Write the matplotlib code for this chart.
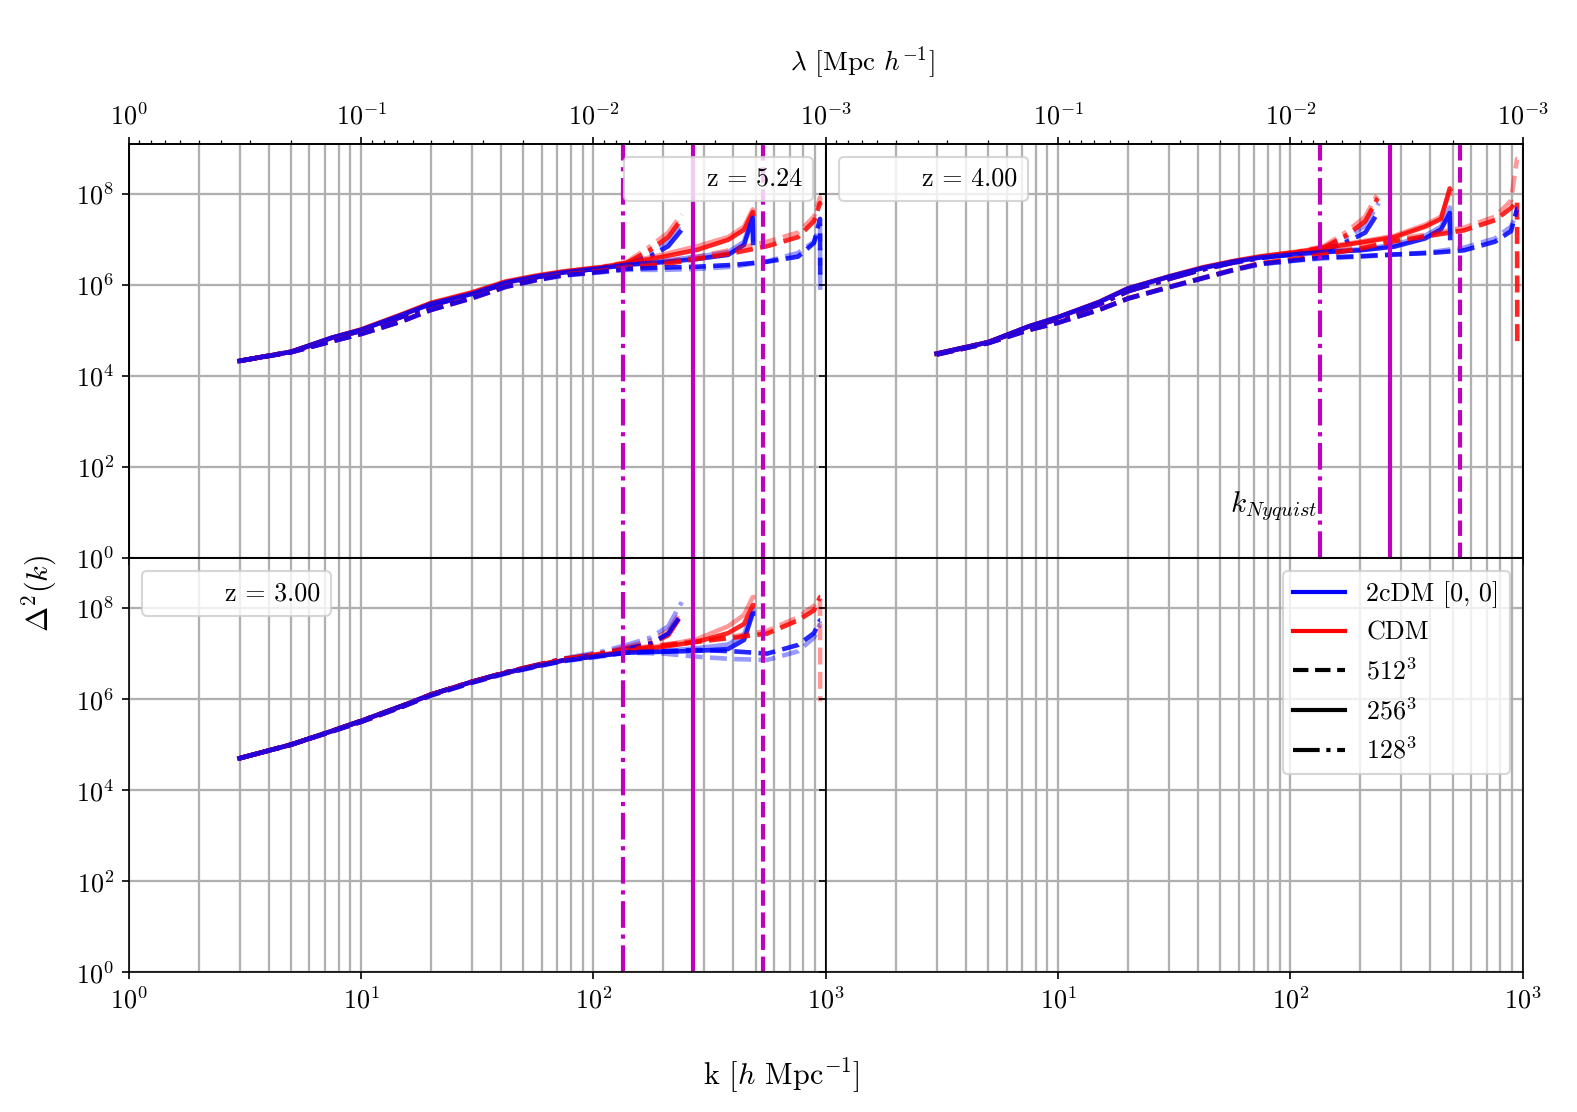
import numpy as np
import matplotlib
matplotlib.use("Agg")
import matplotlib.pyplot as plt
from matplotlib.lines import Line2D
from matplotlib import ticker

plt.rcParams['font.family'] = 'serif'
plt.rcParams['font.serif'] = ['cmr10']
plt.rcParams['mathtext.fontset'] = 'cm'
plt.rcParams['axes.formatter.use_mathtext'] = True
plt.rcParams['font.size'] = 12

# k bins for the three box resolutions (h/Mpc)
k128 = [3, 5, 7.5, 10, 15, 20, 30, 42, 57, 74, 110, 139, 176, 210, 240]
k256 = [3, 5, 7.5, 10, 15, 20, 30, 42, 57, 74, 110, 139, 200, 280, 380, 445, 485, 487]
k512 = [3, 5, 7.5, 10, 15, 20, 30, 42, 57, 74, 110, 139, 200, 280, 400, 560, 760, 890, 945, 947]

# nyquist wavenumbers for 128^3, 256^3, 512^3
k_nyq = [134.0, 268.1, 536.2]

redshifts = ["5.24", "4.00", "3.00"]

# log10 Delta^2(k); "_b" is the second (faint) run
# z = 5.24
cdm_z5_128 = [4.33, 4.53, 4.82, 4.99, 5.30, 5.55, 5.79, 6.03, 6.17, 6.27, 6.38, 6.48, 6.77, 7.05, 7.45]
cdm_z5_128_b = [4.33, 4.53, 4.82, 4.99, 5.30, 5.55, 5.79, 6.03, 6.17, 6.28, 6.40, 6.50, 6.85, 7.15, 7.55]
dm2_z5_128 = [4.33, 4.53, 4.82, 4.99, 5.30, 5.55, 5.79, 6.03, 6.17, 6.27, 6.37, 6.44, 6.63, 6.85, 7.21]
dm2_z5_128_b = [4.33, 4.53, 4.82, 4.99, 5.30, 5.55, 5.79, 6.03, 6.17, 6.27, 6.38, 6.46, 6.68, 6.95, 7.35]
cdm_z5_256 = [4.33, 4.53, 4.84, 5.02, 5.35, 5.60, 5.83, 6.07, 6.20, 6.29, 6.39, 6.48, 6.62, 6.77, 6.99, 7.21, 7.60, 7.55]
cdm_z5_256_b = [4.33, 4.53, 4.84, 5.02, 5.36, 5.61, 5.84, 6.08, 6.21, 6.30, 6.40, 6.49, 6.67, 6.85, 7.05, 7.28, 7.66, 7.62]
dm2_z5_256 = [4.33, 4.53, 4.84, 5.01, 5.34, 5.58, 5.80, 6.05, 6.18, 6.27, 6.37, 6.44, 6.50, 6.57, 6.66, 6.88, 7.47, 6.92]
dm2_z5_256_b = [4.33, 4.53, 4.84, 5.01, 5.34, 5.59, 5.81, 6.06, 6.19, 6.28, 6.38, 6.45, 6.53, 6.62, 6.72, 6.95, 7.52, 7.00]
cdm_z5_512 = [4.33, 4.52, 4.76, 4.92, 5.20, 5.45, 5.71, 5.96, 6.11, 6.22, 6.30, 6.37, 6.45, 6.57, 6.70, 6.85, 7.05, 7.40, 7.80, 7.75]
cdm_z5_512_b = [4.33, 4.52, 4.77, 4.93, 5.21, 5.46, 5.72, 5.97, 6.12, 6.23, 6.32, 6.40, 6.50, 6.62, 6.78, 6.95, 7.15, 7.50, 7.92, 7.85]
dm2_z5_512 = [4.33, 4.52, 4.76, 4.92, 5.20, 5.45, 5.71, 5.96, 6.11, 6.21, 6.29, 6.35, 6.38, 6.40, 6.44, 6.51, 6.62, 6.92, 7.45, 6.09]
dm2_z5_512_b = [4.33, 4.52, 4.76, 4.92, 5.20, 5.45, 5.70, 5.95, 6.10, 6.20, 6.28, 6.33, 6.33, 6.35, 6.40, 6.52, 6.70, 6.95, 7.30, 5.76]

# z = 4.00
cdm_z4_128 = [4.48, 4.74, 5.06, 5.25, 5.57, 5.86, 6.13, 6.34, 6.49, 6.60, 6.72, 6.82, 7.10, 7.40, 7.95]
cdm_z4_128_b = [4.48, 4.74, 5.06, 5.25, 5.57, 5.86, 6.13, 6.34, 6.50, 6.61, 6.74, 6.85, 7.18, 7.50, 8.05]
dm2_z4_128 = [4.48, 4.74, 5.06, 5.25, 5.57, 5.86, 6.13, 6.34, 6.49, 6.59, 6.69, 6.74, 6.95, 7.15, 7.61]
dm2_z4_128_b = [4.48, 4.74, 5.06, 5.25, 5.57, 5.86, 6.13, 6.34, 6.49, 6.60, 6.71, 6.80, 7.05, 7.30, 7.80]
cdm_z4_256 = [4.49, 4.74, 5.09, 5.29, 5.62, 5.92, 6.18, 6.38, 6.52, 6.62, 6.73, 6.81, 6.93, 7.05, 7.28, 7.45, 8.12, 8.10]
cdm_z4_256_b = [4.49, 4.74, 5.09, 5.29, 5.63, 5.93, 6.19, 6.39, 6.53, 6.63, 6.74, 6.83, 6.95, 7.08, 7.32, 7.50, 8.05, 8.00]
dm2_z4_256 = [4.49, 4.74, 5.09, 5.29, 5.62, 5.92, 6.18, 6.37, 6.51, 6.60, 6.68, 6.72, 6.76, 6.84, 7.02, 7.22, 7.58, 7.03]
dm2_z4_256_b = [4.49, 4.74, 5.09, 5.29, 5.62, 5.92, 6.18, 6.38, 6.52, 6.61, 6.70, 6.74, 6.78, 6.88, 7.08, 7.28, 7.70, 7.15]
cdm_z4_512 = [4.47, 4.72, 5.01, 5.17, 5.45, 5.70, 5.95, 6.15, 6.33, 6.47, 6.58, 6.66, 6.80, 6.96, 7.08, 7.20, 7.42, 7.69, 7.85, 4.64]
cdm_z4_512_b = [4.47, 4.72, 5.01, 5.17, 5.46, 5.71, 5.96, 6.16, 6.34, 6.48, 6.60, 6.70, 6.85, 7.00, 7.12, 7.26, 7.50, 7.85, 8.77, 8.77]
dm2_z4_512 = [4.47, 4.72, 5.01, 5.17, 5.45, 5.70, 5.95, 6.15, 6.33, 6.46, 6.55, 6.60, 6.63, 6.67, 6.70, 6.76, 6.95, 7.18, 7.67, 7.67]
dm2_z4_512_b = [4.47, 4.72, 5.01, 5.17, 5.45, 5.70, 5.94, 6.14, 6.32, 6.45, 6.54, 6.58, 6.62, 6.66, 6.72, 6.82, 7.02, 7.28, 7.60, 7.60]

# z = 3.00
cdm_z3_128 = [4.70, 5.00, 5.30, 5.52, 5.85, 6.10, 6.38, 6.59, 6.75, 6.88, 7.01, 7.12, 7.22, 7.40, 7.85]
cdm_z3_128_b = [4.70, 5.00, 5.30, 5.52, 5.85, 6.10, 6.38, 6.59, 6.75, 6.88, 7.02, 7.15, 7.28, 7.50, 7.95]
dm2_z3_128 = [4.70, 5.00, 5.30, 5.52, 5.85, 6.10, 6.38, 6.59, 6.74, 6.87, 7.00, 7.10, 7.22, 7.44, 7.88]
dm2_z3_128_b = [4.70, 5.00, 5.30, 5.52, 5.85, 6.10, 6.38, 6.59, 6.75, 6.89, 7.05, 7.19, 7.35, 7.60, 8.13]
cdm_z3_256 = [4.70, 5.00, 5.30, 5.52, 5.85, 6.10, 6.38, 6.58, 6.73, 6.85, 6.97, 7.05, 7.15, 7.26, 7.45, 7.65, 8.06, 8.06]
cdm_z3_256_b = [4.70, 5.00, 5.30, 5.52, 5.85, 6.10, 6.38, 6.58, 6.73, 6.85, 6.98, 7.06, 7.18, 7.32, 7.60, 7.85, 8.24, 8.24]
dm2_z3_256 = [4.70, 5.00, 5.30, 5.52, 5.85, 6.10, 6.38, 6.58, 6.73, 6.85, 6.96, 7.02, 7.04, 7.06, 7.10, 7.30, 7.88, 7.88]
dm2_z3_256_b = [4.70, 5.00, 5.30, 5.52, 5.85, 6.10, 6.38, 6.58, 6.73, 6.85, 6.96, 7.03, 7.06, 7.12, 7.20, 7.42, 7.95, 7.95]
cdm_z3_512 = [4.70, 5.00, 5.29, 5.50, 5.83, 6.09, 6.37, 6.58, 6.74, 6.87, 7.00, 7.08, 7.18, 7.26, 7.35, 7.44, 7.73, 7.95, 8.24, 8.24]
cdm_z3_512_b = [4.70, 5.00, 5.29, 5.50, 5.83, 6.09, 6.37, 6.58, 6.74, 6.87, 7.01, 7.10, 7.20, 7.28, 7.38, 7.50, 7.80, 8.05, 8.20, 5.95]
dm2_z3_512 = [4.70, 5.00, 5.29, 5.50, 5.83, 6.08, 6.36, 6.57, 6.72, 6.84, 6.96, 7.03, 7.05, 7.08, 7.05, 7.00, 7.19, 7.45, 7.73, 7.73]
dm2_z3_512_b = [4.70, 5.00, 5.29, 5.50, 5.83, 6.08, 6.36, 6.56, 6.71, 6.83, 6.94, 7.02, 7.00, 6.93, 6.88, 6.86, 7.05, 7.35, 7.65, 7.65]

panels = {
    "5.24": [(k128, cdm_z5_128, cdm_z5_128_b, dm2_z5_128, dm2_z5_128_b, '-.'),
             (k256, cdm_z5_256, cdm_z5_256_b, dm2_z5_256, dm2_z5_256_b, '-'),
             (k512, cdm_z5_512, cdm_z5_512_b, dm2_z5_512, dm2_z5_512_b, '--')],
    "4.00": [(k128, cdm_z4_128, cdm_z4_128_b, dm2_z4_128, dm2_z4_128_b, '-.'),
             (k256, cdm_z4_256, cdm_z4_256_b, dm2_z4_256, dm2_z4_256_b, '-'),
             (k512, cdm_z4_512, cdm_z4_512_b, dm2_z4_512, dm2_z4_512_b, '--')],
    "3.00": [(k128, cdm_z3_128, cdm_z3_128_b, dm2_z3_128, dm2_z3_128_b, '-.'),
             (k256, cdm_z3_256, cdm_z3_256_b, dm2_z3_256, dm2_z3_256_b, '-'),
             (k512, cdm_z3_512, cdm_z3_512_b, dm2_z3_512, dm2_z3_512_b, '--')],
}
nyq_styles = ['-.', '-', '--']

fig, axs = plt.subplots(2, 2, figsize=(1577 / 150, 1112 / 150), dpi=150)
fig.subplots_adjust(left=0.0816, right=0.9656, top=0.8707, bottom=0.1257, hspace=0, wspace=0)

TICK_FS = 12.5
grid_kw = dict(color='#b0b0b0', lw=1.1)
for r in range(2):
    for c in range(2):
        ax = axs[r, c]
        ax.set_xscale('log')
        ax.set_yscale('log')
        ax.set_xlim(1, 1e3)
        ax.set_ylim(1, 10 ** 9.1)
        if c == 0:
            ax.xaxis.set_major_locator(ticker.FixedLocator([1, 10, 100, 1000]))
        else:
            ax.xaxis.set_major_locator(ticker.FixedLocator([10, 100, 1000]))
        ax.xaxis.set_minor_locator(ticker.LogLocator(subs=np.arange(2, 10)))
        ax.yaxis.set_major_locator(ticker.FixedLocator([1, 1e2, 1e4, 1e6, 1e8]))
        ax.yaxis.set_minor_locator(ticker.NullLocator())
        ax.xaxis.set_major_formatter(ticker.LogFormatterSciNotation())
        ax.yaxis.set_major_formatter(ticker.LogFormatterSciNotation())
        ax.grid(True, which='both', axis='x', **grid_kw)
        ax.grid(True, which='major', axis='y', **grid_kw)
        ax.set_axisbelow(True)
        ax.tick_params(which='minor', length=0)
        ax.tick_params(labelsize=TICK_FS)
        if r == 0:
            ax.tick_params(labelbottom=False)
        if c == 1:
            ax.tick_params(labelleft=False)

# top axes: wavelength lambda = 1/k
for c in range(2):
    tw = axs[0, c].twiny()
    tw.set_xscale('log')
    tw.set_xlim(1, 1e-3)
    if c == 0:
        tw.xaxis.set_major_locator(ticker.FixedLocator([1, 1e-1, 1e-2, 1e-3]))
    else:
        tw.xaxis.set_major_locator(ticker.FixedLocator([1e-1, 1e-2, 1e-3]))
    tw.xaxis.set_minor_locator(ticker.LogLocator(subs=np.arange(2, 10)))
    tw.xaxis.set_minor_formatter(ticker.NullFormatter())
    tw.xaxis.set_major_formatter(ticker.LogFormatterSciNotation())
    tw.tick_params(labelsize=TICK_FS)

panel_axes = [axs[0, 0], axs[0, 1], axs[1, 0]]
legend_locs = ['upper right', 'upper left', 'upper left']
for ax, z, loc in zip(panel_axes, redshifts, legend_locs):
    for kk, cdm, cdm_b, dm2, dm2_b, ls in panels[z]:
        kk = np.array(kk)
        ax.plot(kk, 10 ** np.array(cdm_b), color='red', ls=ls, lw=2.2, alpha=0.4)
        ax.plot(kk, 10 ** np.array(dm2_b), color='blue', ls=ls, lw=2.2, alpha=0.4)
        ax.plot(kk, 10 ** np.array(cdm), color='red', ls=ls, lw=2.2, alpha=0.85)
        ax.plot(kk, 10 ** np.array(dm2), color='blue', ls=ls, lw=2.2, alpha=0.85)
    for kn, ls in zip(k_nyq, nyq_styles):
        ax.axvline(kn, color='m', ls=ls, lw=2)
    ax.legend(handles=[Line2D([], [], color='none')], labels=['z = ' + z],
              loc=loc, fontsize=12.5)

axs[0, 1].text(55, 10, r'$k_{Nyquist}$', fontsize=14)

handles = [Line2D([], [], color='blue', lw=2),
           Line2D([], [], color='red', lw=2),
           Line2D([], [], color='black', ls='--', lw=2),
           Line2D([], [], color='black', ls='-', lw=2),
           Line2D([], [], color='black', ls='-.', lw=2)]
labels = ['2cDM [0, 0]', 'CDM', r'$512^3$', r'$256^3$', r'$128^3$']
axs[1, 1].legend(handles, labels, loc='upper right', fontsize=12.5)

fig.text(0.4955, 0.0325, r'k [$h$ Mpc$^{-1}$]', ha='center', va='center', fontsize=14.5)
fig.text(0.5466, 0.944, r'$\lambda$ [Mpc $h^{-1}$]', ha='center', va='center', fontsize=13)
fig.text(0.0255, 0.4665, r'$\Delta^2(k)$', ha='center', va='center', rotation=90, fontsize=14.5)

fig.savefig('out.png', dpi=150)
